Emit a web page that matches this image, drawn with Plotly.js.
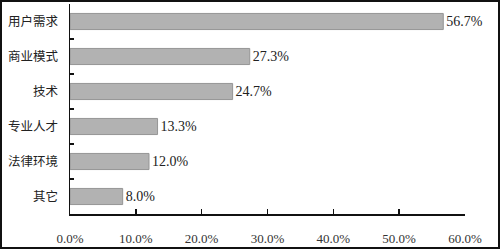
<!DOCTYPE html>
<html><head><meta charset="utf-8">
<script src="https://cdn.plot.ly/plotly-3.0.1.min.js"></script>
<style>
html,body{margin:0;padding:0;background:#fff;}
#chart{width:496px;height:245px;border:2px solid #111;}
</style></head>
<body><div id="chart"></div>
<script>
const categories = ["用户需求","商业模式","技术","专业人才","法律环境","其它"];
const values = [56.7, 27.3, 24.7, 13.3, 12.0, 8.0];
const xTickVals = [0,10,20,30,40,50,60];
const xTickText = ["0.0%","10.0%","20.0%","30.0%","40.0%","50.0%","60.0%"];

const font = "Liberation Serif, 'Noto Sans CJK SC', serif";
Plotly.newPlot("chart", [{
  type: "bar", orientation: "h",
  x: values, y: categories,
  width: 0.46,
  marker: {color: "#b2b2b2", line: {color: "#959595", width: 1}},
  text: values.map(v => v.toFixed(1) + "%"),
  textposition: "outside", cliponaxis: false,
  textfont: {family: font, size: 14, color: "#222"},
  hoverinfo: "skip"
}], {
  width: 496, height: 245,
  margin: {l: 68, r: 33, t: 2, b: 33},
  paper_bgcolor: "#fff", plot_bgcolor: "#fff",
  showlegend: false,
  font: {family: font, color: "#222"},
  xaxis: {
    range: [0, 60], tickvals: xTickVals, ticktext: xTickText,
    showgrid: false, zeroline: false, showline: true, linecolor: "#111", linewidth: 1.5,
    ticks: "inside", ticklen: 5, tickcolor: "#111", tickwidth: 1.5,
    ticklabelstandoff: 12,
    tickfont: {family: font, size: 13, color: "#333"}
  },
  yaxis: {
    autorange: "reversed", type: "category",
    showgrid: false, zeroline: false, showline: true, linecolor: "#111", linewidth: 1.5,
    ticks: "inside", tickson: "boundaries", ticklen: 4, tickcolor: "#111", tickwidth: 1.5,
    ticklabelstandoff: 8,
    tickfont: {family: "'Noto Sans CJK SC', sans-serif", size: 12.5, color: "#222"}
  }
}, {staticPlot: true, displayModeBar: false});
</script></body></html>
